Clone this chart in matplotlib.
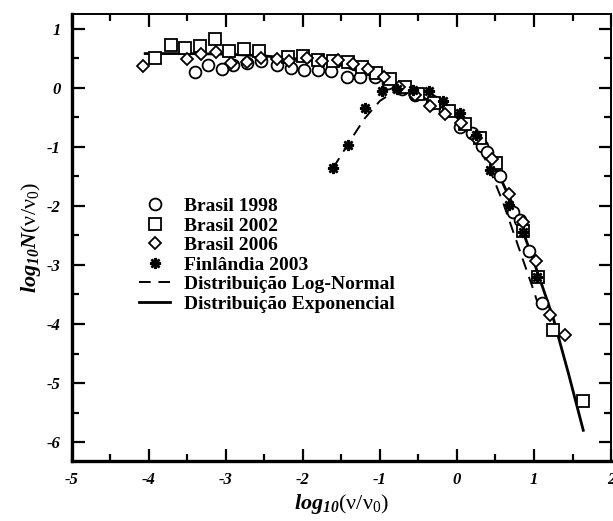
import matplotlib
matplotlib.use("Agg")
import matplotlib.pyplot as plt
from matplotlib.ticker import MultipleLocator

plt.rcParams['font.family'] = ['Liberation Serif', 'DejaVu Serif']
plt.rcParams['axes.unicode_minus'] = False
plt.rcParams['mathtext.fontset'] = 'custom'
plt.rcParams['mathtext.it'] = 'Liberation Serif:italic:bold'
plt.rcParams['mathtext.sf'] = 'Liberation Serif:italic:bold'
plt.rcParams['mathtext.rm'] = 'Liberation Serif'
plt.rcParams['mathtext.bf'] = 'Liberation Serif:bold'

# Brasil 1998 (circles)
b98_x = [-3.40, -3.23, -3.05, -2.91, -2.73, -2.55, -2.34, -2.15, -1.99, -1.80, -1.63, -1.43,
         -1.26, -1.06, -0.90, -0.72, -0.55, -0.33, -0.16, 0.04, 0.19, 0.32, 0.39, 0.56,
         0.73, 0.82, 0.93, 1.10]
b98_y = [0.26, 0.39, 0.32, 0.39, 0.42, 0.45, 0.39, 0.33, 0.31, 0.30, 0.28, 0.18,
         0.18, 0.19, 0.08, -0.02, -0.12, -0.26, -0.40, -0.66, -0.77, -0.99, -1.08, -1.50,
         -2.10, -2.24, -2.77, -3.65]

# Brasil 2002 (squares)
b02_x = [-3.92, -3.72, -3.53, -3.34, -3.14, -2.96, -2.76, -2.57, -2.19, -2.00, -1.81, -1.61,
         -1.42, -1.24, -1.05, -0.87, -0.68, -0.50, -0.30, -0.10, 0.10, 0.30, 0.51, 0.86,
         1.05, 1.25, 1.64]
b02_y = [0.51, 0.73, 0.68, 0.70, 0.83, 0.62, 0.66, 0.62, 0.53, 0.54, 0.47, 0.46,
         0.44, 0.36, 0.25, 0.15, 0.02, -0.10, -0.25, -0.40, -0.62, -0.85, -1.28, -2.43,
         -3.20, -4.10, -5.31]

# Brasil 2006 (diamonds)
b06_x = [-4.08, -3.50, -3.32, -3.13, -2.93, -2.73, -2.55, -2.34, -2.18, -1.95, -1.75, -1.55,
         -1.35, -1.15, -0.95, -0.75, -0.55, -0.35, -0.15, 0.05, 0.25, 0.45, 0.67, 0.86,
         1.03, 1.21, 1.40]
b06_y = [0.37, 0.49, 0.58, 0.60, 0.42, 0.43, 0.50, 0.49, 0.45, 0.50, 0.45, 0.47,
         0.40, 0.32, 0.18, 0.02, -0.12, -0.30, -0.45, -0.60, -0.85, -1.20, -1.79, -2.27,
         -2.94, -3.85, -4.19]

# Finlândia 2003 (asterisks)
fin_x = [-1.61, -1.42, -1.19, -0.98, -0.78, -0.57, -0.37, -0.18, 0.04, 0.25, 0.43, 0.67, 0.86, 1.04]
fin_y = [-1.36, -0.97, -0.34, -0.06, -0.02, -0.03, -0.06, -0.23, -0.42, -0.80, -1.39, -1.98, -2.45, -3.20]

# Log-normal fit (dashed)
ln_x = [-1.61, -1.40, -1.20, -1.00, -0.80, -0.60, -0.40, -0.20, 0.00, 0.20, 0.40, 0.60, 0.80, 1.00, 1.08]
ln_y = [-1.36, -0.92, -0.52, -0.22, -0.05, 0.00, -0.06, -0.20, -0.42, -0.78, -1.30, -1.95, -2.70, -3.45, -3.78]

# Exponential fit (solid)
ex_x = [-4.05, -3.50, -3.00, -2.50, -2.00, -1.50, -1.00, -0.50, 0.00, 0.25, 0.50, 0.75, 1.00, 1.25, 1.45, 1.64]
ex_y = [0.58, 0.58, 0.57, 0.54, 0.48, 0.38, 0.16, -0.12, -0.50, -0.85, -1.35, -2.05, -2.95, -3.90, -4.85, -5.80]

labels = ['Brasil 1998', 'Brasil 2002', 'Brasil 2006', 'Finlândia 2003',
          'Distribuição Log-Normal', 'Distribuição Exponencial']

fig = plt.figure(figsize=(6.13, 5.21), dpi=100)
ax = fig.add_axes([72/613, 1 - 461/521, (611 - 72)/613, (461 - 14)/521])

mew = 1.3
ax.plot(b98_x, b98_y, 'o', ms=8.5, mfc='white', mec='black', mew=mew, ls='none', label=labels[0], zorder=3)
ax.plot(b02_x, b02_y, 's', ms=8, mfc='white', mec='black', mew=mew, ls='none', label=labels[1], zorder=3)
ax.plot(b06_x, b06_y, 'D', ms=6.5, mfc='white', mec='black', mew=mew, ls='none', label=labels[2], zorder=3)
ax.plot(fin_x, fin_y, marker=(8, 2, 0), ms=8, color='black', mew=1.8, ls='none', label=labels[3], zorder=4)
ax.plot(ln_x, ln_y, color='black', lw=1.4, ls=(0, (6, 4)), label=labels[4], zorder=2)
ax.plot(ex_x, ex_y, color='black', lw=2.0, ls='-', label=labels[5], zorder=2)

ax.set_xlim(-5, 2)
ax.set_ylim(-6.32, 1.25)
ax.xaxis.set_major_locator(MultipleLocator(1))
ax.xaxis.set_minor_locator(MultipleLocator(0.5))
ax.yaxis.set_major_locator(MultipleLocator(1))
ax.yaxis.set_minor_locator(MultipleLocator(0.5))
ax.tick_params(which='both', direction='in', top=True, right=True, width=1.6)
ax.tick_params(which='major', length=9, pad=8)
ax.tick_params(which='minor', length=5)
for lbl in ax.get_xticklabels() + ax.get_yticklabels():
    lbl.set_fontstyle('italic')
    lbl.set_fontweight('bold')
    lbl.set_fontsize(12)

for side in ['left', 'bottom']:
    ax.spines[side].set_linewidth(2.4)
for side in ['top', 'right']:
    ax.spines[side].set_linewidth(1.4)

ax.set_xlabel(r'$\mathit{log}_{\mathsf{10}}(\mathrm{\nu}/\mathrm{\nu}_{0})$', fontsize=16, labelpad=3)
ax.set_ylabel(r'$\mathit{log}_{\mathsf{10}}\mathit{N}(\mathrm{\nu}/\mathrm{\nu}_{0})$', fontsize=16, labelpad=3)

leg = ax.legend(loc='upper left', bbox_to_anchor=(0.099, 0.62), frameon=False,
                prop={'family': 'Liberation Serif', 'weight': 'bold', 'size': 14},
                labelspacing=0.1, handlelength=1.6, handletextpad=0.7, borderpad=0.2)

fig.savefig('out.png', dpi=100)
